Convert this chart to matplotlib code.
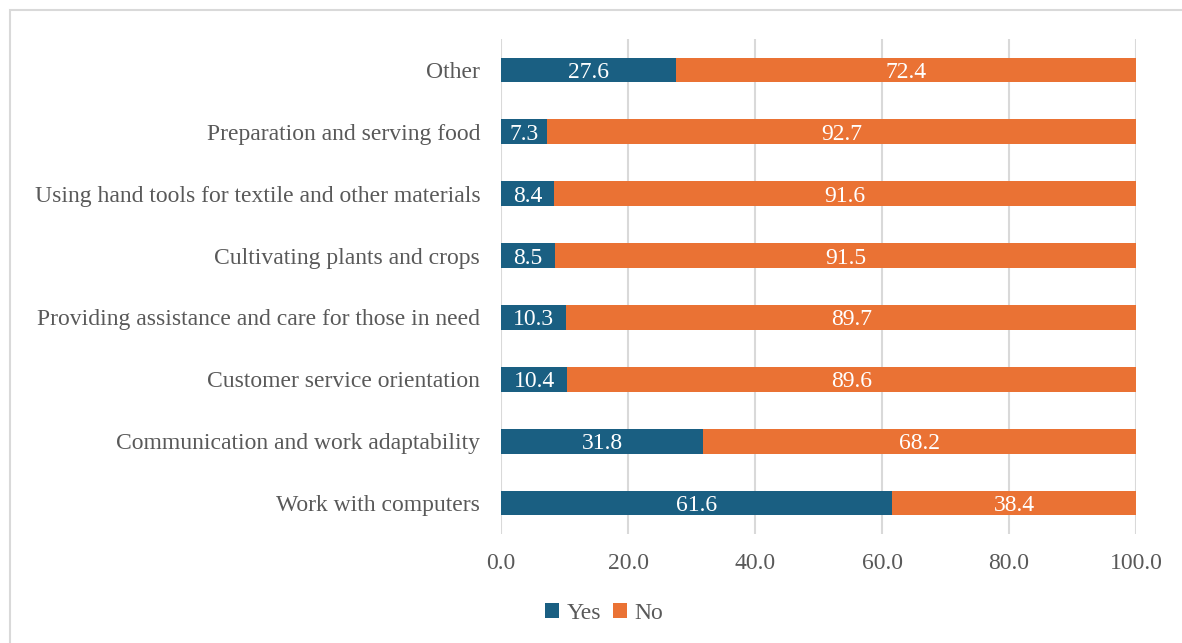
import matplotlib.pyplot as plt
from matplotlib.patches import Rectangle

# Datos: porcentaje Sí / No por tipo de habilidad
categories = [
    'Work with computers',
    'Communication and work adaptability',
    'Customer service orientation',
    'Providing assistance and care for those in need',
    'Cultivating plants and crops',
    'Using hand tools for textile and other materials',
    'Preparation and serving food',
    'Other',
]
yes_vals = [61.6, 31.8, 10.4, 10.3, 8.5, 8.4, 7.3, 27.6]
no_vals = [38.4, 68.2, 89.6, 89.7, 91.5, 91.6, 92.7, 72.4]
x_ticks = [0, 20, 40, 60, 80, 100]

blue = '#1A5F82'
orange = '#EA7234'
text_gray = '#595959'

plt.rcParams['font.family'] = ['Liberation Serif', 'DejaVu Serif']

fig = plt.figure(figsize=(11.82, 6.43), dpi=100)
ax = fig.add_axes([0.4239, 0.1695, 0.5372, 0.7698])

# marco gris del área del gráfico
fig.patches.append(Rectangle((10 / 1182, -0.1), 1.2, 1 - 10 / 643 + 0.1,
                             transform=fig.transFigure, fill=False,
                             edgecolor='#D9D9D9', linewidth=1.5))

y = range(len(categories))
b1 = ax.barh(y, yes_vals, height=0.4, color=blue, label='Yes', zorder=3)
b2 = ax.barh(y, no_vals, left=yes_vals, height=0.4, color=orange, label='No', zorder=3)

for bars in (b1, b2):
    for rect in bars:
        w = rect.get_width()
        ax.text(rect.get_x() + w / 2, rect.get_y() + rect.get_height() / 2,
                f'{w:.1f}', ha='center', va='center_baseline', color='white',
                fontsize=17, zorder=4)

ax.set_xlim(0, 100)
ax.set_ylim(-0.5, len(categories) - 0.5)
ax.set_xticks(x_ticks)
ax.set_xticklabels([f'{t:.1f}' for t in x_ticks])
ax.set_yticks(list(y))
ax.set_yticklabels(categories)
ax.tick_params(axis='both', length=0, labelsize=17, labelcolor=text_gray)
ax.tick_params(axis='y', pad=15)
ax.tick_params(axis='x', pad=14)
ax.grid(axis='x', color='#D9D9D9', linewidth=1.5, zorder=0)
for s in ax.spines.values():
    s.set_visible(False)

leg = fig.legend(loc='center', bbox_to_anchor=(0.511, 0.046), ncol=2, frameon=False,
                 fontsize=17, handlelength=0.6, handleheight=0.6, handletextpad=0.3,
                 columnspacing=0.5)
for t in leg.get_texts():
    t.set_color(text_gray)

plt.savefig('out.png', dpi=100)
